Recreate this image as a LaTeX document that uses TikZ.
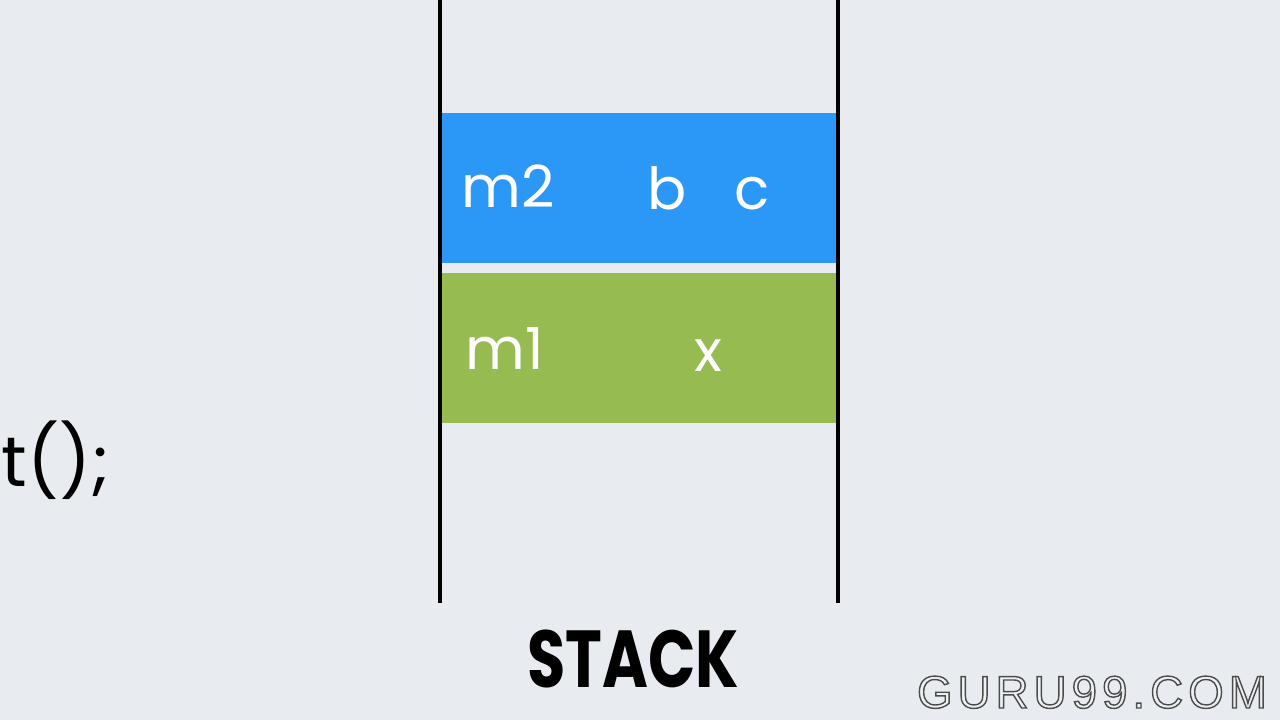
\documentclass[tikz,border=0pt]{standalone}
\usepackage{fontspec}
\setmainfont{Poppins}
\newfontfamily\markfont{Liberation Sans}[LetterSpace=11]
\definecolor{bg}{HTML}{E8ECF0}
\definecolor{frameblue}{HTML}{2B97F6}
\definecolor{framegreen}{HTML}{95BB51}
\definecolor{markfill}{HTML}{EEF1F4}
\begin{document}
\begin{tikzpicture}[x=0.2mm,y=0.2mm]
\tikzstyle{frame}=[minimum width=78.8mm,minimum height=30mm,inner sep=0pt]
\tikzstyle{cell}=[text=white,anchor=base,inner sep=0pt,font=\fontsize{33}{38}\selectfont]
\tikzstyle{wall}=[line width=0.8mm]
    \fill[bg] (0,0) rectangle (1280,720);
    \useasboundingbox (0,0) rectangle (1280,720);
    % stack walls
    \coordinate (lt) at (440,720);
    \coordinate (lb) at (440,117);
    \coordinate (rt) at (838,720);
    \coordinate (rb) at (838,117);
    \draw [wall] (lt) -- (lb);
    \draw [wall] (rt) -- (rb);
    % frames
    \node [frame,fill=frameblue] (m2f) at (639,532) {};
    \node [frame,fill=framegreen] (m1f) at (639,372) {};
    \node [cell] (m2) at (508,512) {m2};
    \node [cell] (b) at (667,510) {b};
    \node [cell] (c) at (752,510) {c};
    \node [cell] (m1) at (505,350) {m1};
    \node [cell] (x) at (708,348) {x};
    % labels
    \node [anchor=base east,inner sep=0pt,font=\fontsize{40}{44}\selectfont] (call) at (110,233) {t();};
    \node [anchor=base,inner sep=0pt,font=\fontsize{46}{50}\selectfont\bfseries] (stack) at (633,32) {\scalebox{0.77}[1]{STACK}};
    \node [anchor=base,inner sep=0pt,text=markfill,font=\fontsize{26}{30}\selectfont\markfont] (mark) at (1092,12)
        {\special{pdf:literal direct 2 Tr 0.8 w 0.3 0.3 0.3 RG}GURU99.COM\special{pdf:literal direct 0 Tr}};
\end{tikzpicture}
\end{document}
